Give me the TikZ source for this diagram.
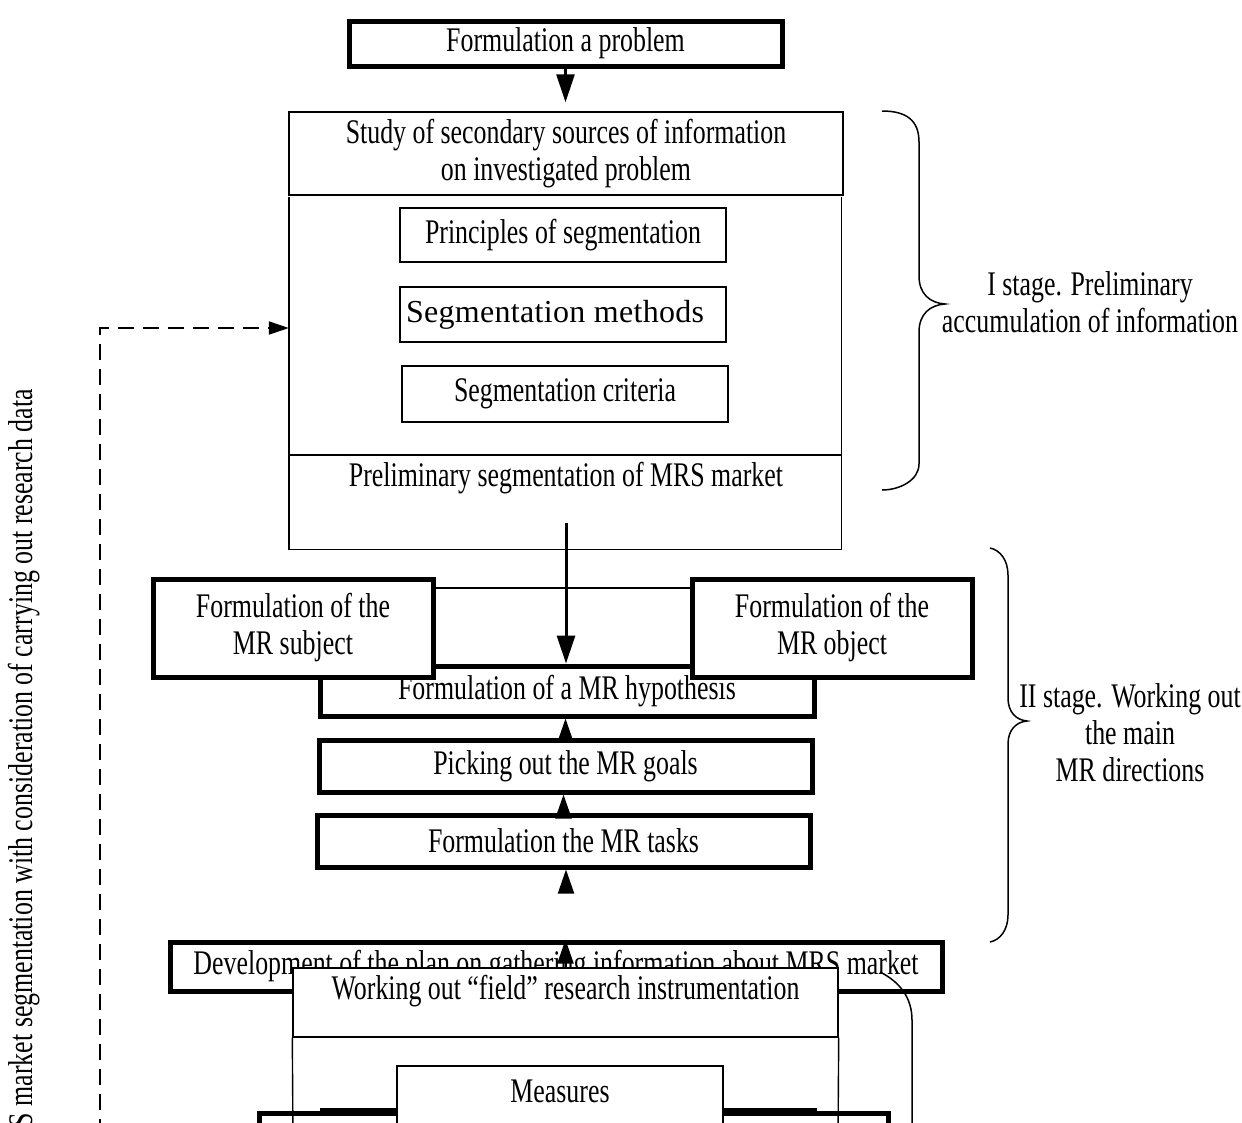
\documentclass[tikz,border=0pt]{standalone}
\usepackage{fontspec}
\setmainfont{Liberation Serif}[FakeStretch=0.75]
\newfontfamily\wideserif{Liberation Serif}[LetterSpace=1.0]
\usetikzlibrary{arrows.meta}
\tikzset{
  every node/.style={font=\fontsize{34.5}{37}\selectfont},
  thickbox/.style={draw, line width=5pt, fill=white, inner sep=0pt, align=center},
  thinbox/.style={draw, line width=1.4pt, fill=white, inner sep=0pt, align=center},
  txt/.style={inner sep=0pt, align=center},
  thinline/.style={line width=1.4pt},
  bracestyle/.style={line width=1.5pt},
  arrbig/.style={line width=2.5pt, -{Triangle[length=28pt,width=18pt]}},
  arrsmall/.style={line width=2pt, -{Triangle[length=24pt,width=16pt]}},
  arrdash/.style={line width=2pt, dash pattern=on 16pt off 9pt, -{Triangle[length=20pt,width=13pt]}},
}
\begin{document}
\begin{tikzpicture}[x=1pt,y=-1pt]
\useasboundingbox (0,0) rectangle (1242,1122);

% ---------- Stage I ----------
\node[thickbox, minimum width=433pt, minimum height=45pt] (problem) at (565.5,43.5) {Formulation a problem};
\node[thinbox, minimum width=554pt, minimum height=83pt] (study) at (566,153.5) {Study of secondary sources of information\\on investigated problem};
\draw[arrbig, shorten >=9pt] (problem.south) -- (problem.south |- study.north);

\node[draw=none, minimum width=552pt, minimum height=352pt, inner sep=0pt] (stageone) at (565,373) {};
\draw[thinline] (stageone.north west) -- (stageone.south west) -- (stageone.south east) -- (stageone.north east);
\coordinate (divl) at (289,455);
\draw[thinline] (divl) -- (stageone.east |- divl);

\node[thinbox, minimum width=326pt, minimum height=54pt] (princ) at (563,235) {Principles of segmentation};
\node[thinbox, minimum width=326pt, minimum height=55pt] (methods) at (563,314.5) {\makebox[314pt][l]{\wideserif\fontsize{32}{37}\selectfont Segmentation methods}};
\node[thinbox, minimum width=326pt, minimum height=56pt] (crit) at (565,394) {Segmentation criteria};
\node[txt] (prelim) at (566,478) {Preliminary segmentation of MRS market};

% brace I
\draw[bracestyle] (882,111) .. controls (906,111) and (919,120) .. (919,142) -- (919,276)
  .. controls (919,294) and (930,303) .. (945,304)
  .. controls (930,305) and (919,314) .. (919,332) -- (919,464)
  .. controls (919,480) and (900,490) .. (882,490);
\node[txt] (stageonelabel) at (1090,302) {I stage. Preliminary\\accumulation of information};

% dashed feedback
\coordinate (dashstart) at (100,1135);
\coordinate (dashcorner) at (100,328);
\draw[arrdash] (dashstart) -- (dashcorner) -- (stageone.west |- dashcorner);
\node[txt, rotate=90, anchor=base east] (sidetext) at (32,389) {S market segmentation with consideration of carrying out research data};

% ---------- Stage II ----------
\node[thickbox, minimum width=494pt, minimum height=50pt] (hyp) at (567,691) {Formulation of a MR hypothesis};
\node[thickbox, minimum width=280pt, minimum height=98pt] (subject) at (293,628) {Formulation of the\\MR subject};
\node[thickbox, minimum width=280pt, minimum height=98pt] (object) at (832,628) {Formulation of the\\MR object};
\coordinate (linkrow) at (0,588);
\draw[thinline] (subject.east |- linkrow) -- (object.west |- linkrow);

\coordinate (shaftstart) at (566,523);
\draw[arrbig, line width=3pt] (shaftstart) -- (shaftstart |- hyp.north);

\node[thickbox, minimum width=493pt, minimum height=52pt] (picking) at (565.5,766) {Picking out the MR goals};
\node[thickbox, minimum width=493pt, minimum height=52pt] (tasks) at (563.5,841) {Formulation the MR tasks};
\draw[arrsmall] (picking.north) -- (picking.north |- hyp.south);
\draw[arrsmall] (tasks.north) -- (tasks.north |- picking.south);
\coordinate (tasksarrow) at (566,893);
\draw[arrsmall] (tasksarrow) -- (tasksarrow |- tasks.south);

% brace II
\draw[bracestyle] (990,548) .. controls (1000,550) and (1008,560) .. (1008,575) -- (1008,698)
  .. controls (1008,712) and (1016,720) .. (1027,721)
  .. controls (1016,722) and (1008,730) .. (1008,744) -- (1008,915)
  .. controls (1008,930) and (1000,940) .. (990,942);
\node[txt] (stagetwolabel) at (1130,733) {II stage. Working out\\the main\\MR directions};

% ---------- Stage III (cut off) ----------
\node[thickbox, minimum width=772pt, minimum height=49pt] (dev) at (556,966.5) {Development of the plan on gathering information about MRS market};
\node[thinbox, minimum width=545pt, minimum height=69pt] (working) at (565.5,1002.5) {};
\node[txt] (workingtext) at (565.5,991) {Working out ``field'' research instrumentation};
\draw[arrsmall] (working.north) -- (working.north |- dev.north);

\node[draw, line width=5pt, minimum width=629pt, minimum height=80pt, inner sep=0pt] (lastbox) at (573.5,1153) {};
\coordinate (segl) at (320,1109);
\coordinate (segr) at (817,1109);
\draw[line width=3pt] (segl) -- (segr);
\coordinate (lowl) at (293,1140);
\coordinate (lowr) at (838,1140);
\draw[thinline] (working.south west) -- (lowl);
\draw[thinline] (working.south east) -- (lowr);
\node[thinbox, minimum width=326pt, minimum height=80pt] (measures) at (560,1106) {};
\node[txt] (measurestext) at (560,1091) {Measures};

\coordinate (hookstart) at (880,972);
\coordinate (hookend) at (912,1140);
\draw[bracestyle] (hookstart) .. controls (900,982) and (912,998) .. (912,1020) -- (hookend);
\end{tikzpicture}
\end{document}
